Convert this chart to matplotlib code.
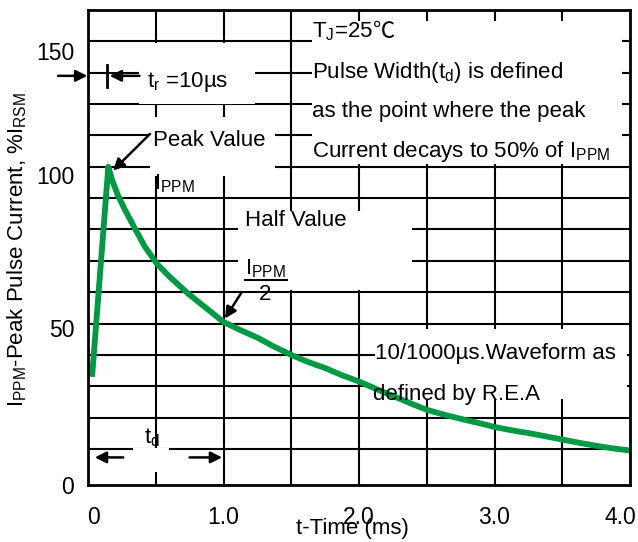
import matplotlib
matplotlib.use("Agg")
import matplotlib.pyplot as plt
import numpy as np
from matplotlib.patches import Rectangle

plt.rcParams['font.family'] = ['Liberation Sans', 'DejaVu Sans']
plt.rcParams['mathtext.fontset'] = 'custom'
plt.rcParams['mathtext.rm'] = 'Liberation Sans'
plt.rcParams['mathtext.it'] = 'Liberation Sans:italic'
plt.rcParams['mathtext.bf'] = 'Liberation Sans:bold'

# ---- data ----
time_ms = [0.03, 0.15, 0.18, 0.22, 0.27, 0.35, 0.42, 0.51, 0.60, 0.74, 0.87,
           1.0, 1.12, 1.25, 1.37, 1.5, 1.62, 1.75, 1.87, 2.0, 2.15, 2.3, 2.4,
           2.5, 2.63, 2.77, 2.9, 3.0, 3.12, 3.26, 3.38, 3.5, 3.62, 3.75, 3.87, 4.0]
current_pct = [33, 100, 95.5, 91, 86.5, 80, 74.5, 69, 65, 59.5, 55,
               50.5, 48, 45.5, 42.7, 40, 37.8, 35.8, 33.6, 31.5, 28.7, 26, 24.2,
               22.5, 20.9, 19.4, 18.1, 17, 16, 15, 14, 13, 12, 11, 10.2, 9.5]

xtick_pos = [0.04, 1.0, 2.0, 3.0, 3.93]
xtick_labels = ['0', '1.0', '2.0', '3.0', '4.0']
ytick_pos = [-1.5, 48.5, 97.5, 137]
ytick_labels = ['0', '50', '100', '150']

GREEN = '#009a44'
FS = 16

fig = plt.figure(figsize=(6.38, 5.42), dpi=100)
ax = fig.add_axes([88/638, 57/542, 542/638, 475/542])
ax.set_xlim(0, 4.0)
ax.set_ylim(0, 150)

# grid lines every 0.5 ms and every 10 %
for gx in np.arange(0.5, 4.0, 0.5):
    ax.axvline(gx, color='black', linewidth=1.5, zorder=0.5)
for gy in np.arange(10, 150, 10):
    ax.axhline(gy, color='black', linewidth=1.5, zorder=0.5)

ax.tick_params(which='major', length=0, labelsize=16.5)
ax.tick_params(axis='x', pad=15)
ax.tick_params(axis='y', pad=10)
ax.set_xticks(xtick_pos)
ax.set_xticklabels(xtick_labels)
ax.set_yticks(ytick_pos)
ax.set_yticklabels(ytick_labels)
for s in ax.spines.values():
    s.set_linewidth(2)
    s.set_zorder(5)

# white boxes masking the grid behind annotations (x0, x1, y0, y1)
boxes = [(0.38, 1.23, 120, 139.5), (0.46, 1.38, 97, 116), (1.65, 3.94, 101, 146.5),
         (1.11, 2.39, 60.6, 86), (2.12, 3.98, 26, 48.3), (0.33, 0.60, 2.5, 10.4)]
for x0, x1, y0, y1 in boxes:
    ax.add_patch(Rectangle((x0, y0), x1 - x0, y1 - y0, facecolor='white',
                           edgecolor='none', zorder=1.5))

ax.plot(time_ms, current_pct, color=GREEN, linewidth=4.2, zorder=3,
        solid_joinstyle='round', solid_capstyle='butt')

arrow_kw = dict(arrowstyle='-|>', color='black', lw=1.8, mutation_scale=17,
                shrinkA=0, shrinkB=0)

# t_r marker
ax.annotate('', xy=(-0.005, 129), xytext=(-0.22, 129), arrowprops=arrow_kw,
            annotation_clip=False, zorder=4)
ax.annotate('', xy=(0.16, 129), xytext=(0.38, 129), arrowprops=arrow_kw, zorder=4)
ax.plot([0.14, 0.14], [125.4, 132.6], color='black', lw=2, zorder=4)
ax.text(0.433, 127, r'$\mathregular{t_r}$ =10µs', fontsize=FS, va='center', zorder=4)

# peak value
ax.text(0.48, 108.5, 'Peak Value', fontsize=FS, va='center', zorder=4)
ax.annotate('', xy=(0.185, 98.8), xytext=(0.458, 110.5), arrowprops=arrow_kw, zorder=4)
ax.text(0.49, 94.5, r'$\mathregular{I_{PPM}}$', fontsize=FS, va='center', zorder=4)

# half value
ax.text(1.16, 83, 'Half Value', fontsize=FS, va='center', zorder=4)
ax.text(1.16, 67.5, r'$\mathregular{I_{PPM}}$', fontsize=FS, va='center', zorder=4)
ax.plot([1.16, 1.47], [64, 64], color='black', lw=1.5, zorder=4)
ax.text(1.31, 59.3, '2', fontsize=FS, va='center', ha='center', zorder=4)
ax.annotate('', xy=(1.011, 51.6), xytext=(1.134, 60), arrowprops=arrow_kw, zorder=4)

# right note box
tj = ax.text(1.655, 143, r'$\mathregular{T_J}$=25', fontsize=FS, va='center', zorder=4)
ax.annotate('℃', xy=(1, 0), xycoords=tj, va='bottom', ha='left', fontsize=FS,
            family=['Noto Sans CJK SC', 'DejaVu Sans'], zorder=4)
ax.text(1.655, 130, r'Pulse Width($\mathregular{t_d}$) is defined', fontsize=FS,
        va='center', zorder=4)
ax.text(1.655, 117.5, 'as the point where the peak', fontsize=FS, va='center', zorder=4)
ax.text(1.655, 104.8, r'Current decays to 50% of $\mathregular{I_{PPM}}$', fontsize=FS,
        va='center', zorder=4)

# waveform note
ax.text(2.118, 40.4, '10/1000µs.Waveform as', fontsize=FS, va='center', zorder=4,
        clip_on=True)
ax.text(2.10, 27.5, 'defined by R.E.A', fontsize=FS, va='center', zorder=4)

# t_d marker
ax.text(0.41, 13.6, r'$\mathregular{t_d}$', fontsize=FS, va='center', zorder=4)
ax.annotate('', xy=(0.05, 7.3), xytext=(0.26, 7.3), arrowprops=arrow_kw, zorder=4)
ax.annotate('', xy=(0.99, 7.3), xytext=(0.75, 7.3), arrowprops=arrow_kw, zorder=4)

ax.set_xlabel('t-Time (ms)', fontsize=FS)
ax.xaxis.set_label_coords((352 - 88) / 542, (485 - 518) / 475)
ax.set_ylabel(r'$\mathregular{I_{PPM}}$-Peak Pulse Current, %$\mathregular{I_{RSM}}$',
              fontsize=FS)
ax.yaxis.set_label_coords((29 - 88) / 542, (485 - 250) / 475)

fig.savefig('out.png', dpi=100)
